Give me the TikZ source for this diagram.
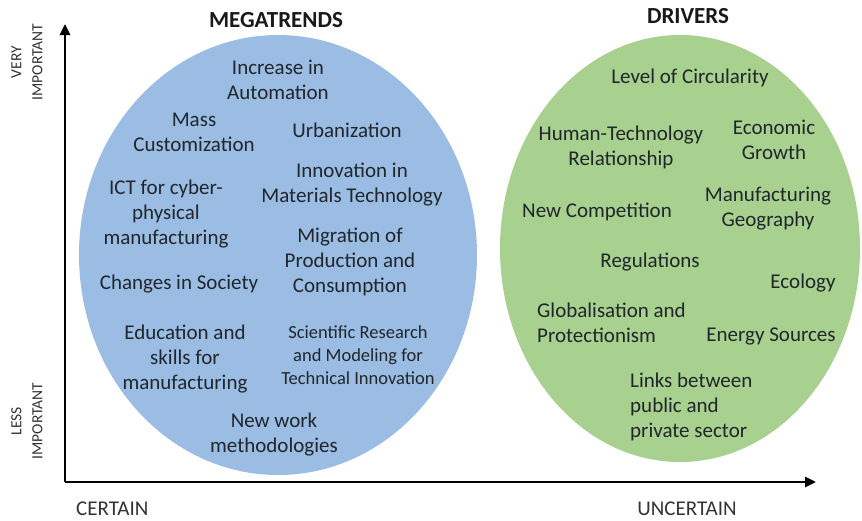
\documentclass[tikz,border=0pt]{standalone}
\usepackage{fontspec}
\setmainfont{Carlito}
\usetikzlibrary{arrows.meta,shapes.geometric}
\definecolor{megablue}{RGB}{155,189,227}
\definecolor{drivgreen}{RGB}{168,208,142}
\definecolor{txt}{RGB}{32,38,44}
\begin{document}
\begin{tikzpicture}[x=1pt,y=-1pt,
  lbl/.style={align=center,text=txt,font=\fontsize{21}{25}\selectfont,inner sep=0pt},
  lbll/.style={lbl,align=left},
  small/.style={lbl,font=\fontsize{18.5}{23}\selectfont},
  ttl/.style={text=black!90,font=\fontsize{23}{26}\selectfont\bfseries,inner sep=0pt},
  axl/.style={text=black!80,font=\fontsize{21}{25}\selectfont,inner sep=0pt},
  vaxl/.style={axl,rotate=90,align=center,font=\fontsize{15.5}{21}\selectfont},
  axis/.style={line width=2.6pt,-{Triangle[length=11pt,width=10pt]}}]
\useasboundingbox (0,0) rectangle (862,520);
% ellipses
\node (megaell) [ellipse,fill=megablue,minimum width=398pt,minimum height=440pt,inner sep=0pt] at (278,255) {};
\node (drivell) [ellipse,fill=drivgreen,minimum width=360pt,minimum height=427pt,inner sep=0pt] at (680,248.5) {};
% axes
\coordinate (origin) at (65,482);
\coordinate (ytop) at (65,24);
\coordinate (xend) at (816,482);
\draw[axis] (origin) -- (ytop);
\draw[axis] (origin) -- (xend);
% titles
\node[ttl] (tmega) at (276,20) {MEGATRENDS};
\node[ttl] (tdriv) at (688,16) {DRIVERS};
% axis labels
\node[vaxl] (vimp) at (27,62) {VERY\\IMPORTANT};
\node[vaxl] (limp) at (27,421) {LESS\\IMPORTANT};
\node[axl,anchor=west] (cert) at (76,509) {CERTAIN};
\node[axl] (uncert) at (687,509) {UNCERTAIN};
% megatrends
\node[lbl] (m1) at (278,80) {Increase in\\Automation};
\node[lbl] (m2) at (194,132) {Mass\\Customization};
\node[lbl] (m3) at (347,130) {Urbanization};
\node[lbl] (m4) at (352,185) {Innovation in\\Materials Technology};
\node[lbl] (m5) at (166,214) {ICT for cyber-\\physical\\manufacturing};
\node[lbl] (m6) at (350,262) {Migration of\\Production and\\Consumption};
\node[lbl] (m7) at (179,284) {Changes in Society};
\node[lbl] (m8) at (185,359) {Education and\\skills for\\manufacturing};
\node[small] (m9) at (358,355) {Scientific Research\\and Modeling for\\Technical Innovation};
\node[lbl] (m10) at (274,435) {New work\\methodologies};
% drivers
\node[lbl] (d1) at (690,78) {Level of Circularity};
\node[lbl] (d2) at (621,147) {Human-Technology\\Relationship};
\node[lbl] (d3) at (774,140) {Economic\\Growth};
\node[lbl] (d4) at (597,212) {New Competition};
\node[lbl] (d5) at (768,209) {Manufacturing\\Geography};
\node[lbl] (d6) at (650,262) {Regulations};
\node[lbl] (d7) at (803,283) {Ecology};
\node[lbll,anchor=west] (d8) at (537,323) {Globalisation and\\Protectionism};
\node[lbl] (d9) at (771,336) {Energy Sources};
\node[lbll,anchor=west] (d10) at (630,407) {Links between\\public and\\private sector};
\end{tikzpicture}
\end{document}
